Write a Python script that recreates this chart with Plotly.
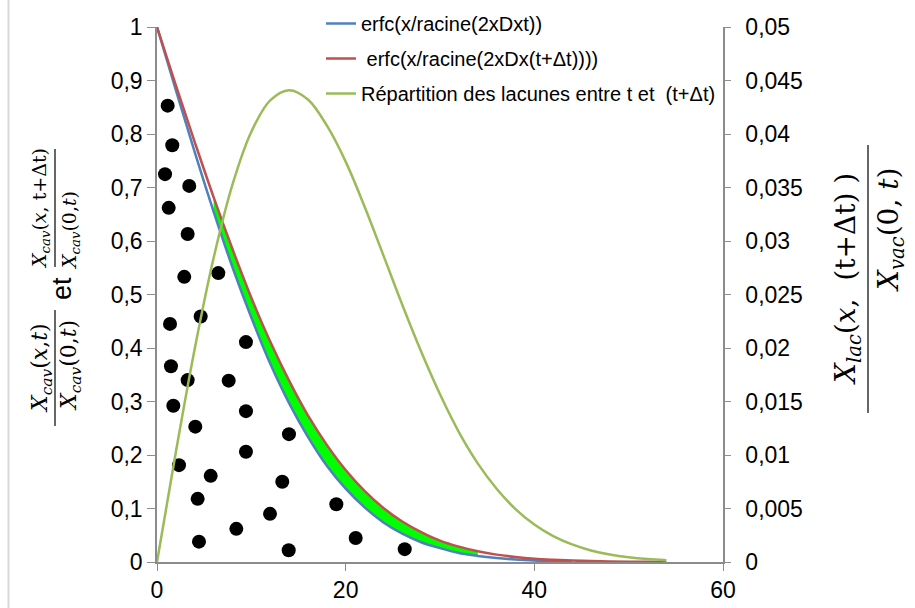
import plotly.graph_objects as go

# Depth profiles ----------------------------------------------------------
x_curve = [0, 2, 4, 6, 8, 10, 12, 14, 16, 18, 20, 22, 24, 26, 28, 30, 32, 34,
           36, 38, 40, 42, 44, 46, 48, 50, 52, 54]

erfc_t = [1.0, 0.882, 0.766, 0.655, 0.551, 0.457, 0.371, 0.297, 0.234, 0.180,
          0.137, 0.102, 0.074, 0.053, 0.037, 0.026, 0.017, 0.0114, 0.0074,
          0.0047, 0.0029, 0.0018, 0.0011]

erfc_tdt = [1.0, 0.891, 0.785, 0.682, 0.585, 0.494, 0.412, 0.339, 0.274, 0.219,
            0.172, 0.133, 0.101, 0.0757, 0.056, 0.040, 0.0287, 0.0201, 0.0138,
            0.0094, 0.0062, 0.0042, 0.0027, 0.0017, 0.0010, 0.0006, 0.0004,
            0.0002]

repartition = [0.0, 0.01028, 0.01993, 0.02841, 0.03527, 0.04021, 0.04314,
               0.0441, 0.04323, 0.04080, 0.03742, 0.03322, 0.02866, 0.02404,
               0.01967, 0.01567, 0.01214, 0.00922, 0.00685, 0.00495, 0.00350,
               0.00242, 0.00164, 0.00108, 0.00070, 0.00044, 0.00027, 0.00016]

# Vacancies (black dots) -------------------------------------------------
dots_x = [1.13, 1.62, 0.85, 3.42, 1.24, 3.25, 2.89, 6.50, 1.38, 4.63, 9.43,
          1.48, 3.25, 7.60, 1.73, 9.43, 4.06, 13.99, 9.43, 2.33, 5.69, 13.28,
          4.31, 19.01, 11.98, 8.41, 21.06, 4.45, 13.96, 26.26]
dots_y = [0.853, 0.779, 0.725, 0.703, 0.662, 0.613, 0.533, 0.540, 0.445, 0.459,
          0.411, 0.366, 0.340, 0.339, 0.292, 0.282, 0.253, 0.239, 0.206, 0.181,
          0.161, 0.150, 0.118, 0.108, 0.090, 0.062, 0.045, 0.038, 0.022, 0.024]

left_ticks = [0, 0.1, 0.2, 0.3, 0.4, 0.5, 0.6, 0.7, 0.8, 0.9, 1]
left_labels = ["0", "0,1", "0,2", "0,3", "0,4", "0,5", "0,6", "0,7", "0,8",
               "0,9", "1"]
right_ticks = [0, 0.005, 0.01, 0.015, 0.02, 0.025, 0.03, 0.035, 0.04, 0.045,
               0.05]
right_labels = ["0", "0,005", "0,01", "0,015", "0,02", "0,025", "0,03",
                "0,035", "0,04", "0,045", "0,05"]
x_ticks = [0, 20, 40, 60]

BLUE = "#4F81BD"
RED = "#C0504D"
OLIVE = "#9BBB59"
AXIS = "#8C8C8C"

W, H = 915, 608
ML, MR, MT, MB = 157, 192, 27, 46
PW, PH = W - ML - MR, H - MT - MB


def px(xp):
    return (xp - ML) / PW


def py(yp):
    return (H - MB - yp) / PH


fig = go.Figure()

# green band between the two erfc profiles
band = slice(3, 18)
fig.add_trace(go.Scatter(x=x_curve[band], y=erfc_t[band], mode="lines",
                         line=dict(width=0, color="#00FF00", shape="spline"),
                         showlegend=False, hoverinfo="skip"))
fig.add_trace(go.Scatter(x=x_curve[band], y=erfc_tdt[band], mode="lines",
                         line=dict(width=0, color="#00FF00", shape="spline"),
                         fill="tonexty", fillcolor="#00FF00",
                         showlegend=False, hoverinfo="skip"))

fig.add_trace(go.Scatter(x=x_curve[:len(erfc_t)], y=erfc_t, mode="lines",
                         name="erfc(x/racine(2xDxt))",
                         line=dict(color=BLUE, width=2.5, shape="spline"),
                         legendgroup="a"))
fig.add_trace(go.Scatter(x=x_curve, y=erfc_tdt, mode="lines",
                         name=" erfc(x/racine(2xDx(t+\u0394t))))",
                         line=dict(color=RED, width=2.5, shape="spline"),
                         legendgroup="b"))
fig.add_trace(go.Scatter(x=x_curve, y=repartition, mode="lines", yaxis="y2",
                         name="R\u00e9partition des lacunes entre t et  (t+\u0394t)",
                         line=dict(color=OLIVE, width=2.5, shape="spline"),
                         legendgroup="c"))
fig.add_trace(go.Scatter(x=dots_x, y=dots_y, mode="markers",
                         marker=dict(color="black", size=14),
                         showlegend=False))

tick_font = dict(family="Liberation Sans, Arial", size=23, color="black")

fig.update_layout(
    width=W, height=H,
    margin=dict(l=ML, r=MR, t=MT, b=MB, autoexpand=False),
    paper_bgcolor="white", plot_bgcolor="white",
    showlegend=True,
    legend=dict(x=px(321), y=py(4), xanchor="left", yanchor="top",
                bgcolor="rgba(255,255,255,0)", tracegroupgap=6,
                font=dict(family="Liberation Sans, Arial", size=20,
                          color="black")),
    xaxis=dict(range=[0, 60], tickvals=x_ticks, ticktext=[str(v) for v in x_ticks],
               showgrid=False, zeroline=False, showline=True, linecolor=AXIS,
               linewidth=1.5, ticks="outside", ticklen=7, tickcolor=AXIS,
               tickfont=tick_font, automargin=False),
    yaxis=dict(range=[0, 1], tickvals=left_ticks, ticktext=left_labels,
               showgrid=False, zeroline=False, showline=True, linecolor=AXIS,
               linewidth=1.5, ticks="outside", ticklen=8, tickcolor=AXIS,
               tickfont=tick_font, automargin=False),
    yaxis2=dict(range=[0, 0.05], overlaying="y", side="right",
                tickvals=right_ticks, ticktext=right_labels,
                showgrid=False, zeroline=False, showline=True, linecolor=AXIS,
                linewidth=1.5, ticks="outside", ticklen=6, tickcolor=AXIS,
                ticklabelstandoff=10, tickfont=tick_font, automargin=False),
)

math_family = "DejaVu Serif, Liberation Serif"
annotations = []
shapes = []


def fraction(num, den, x_num, x_bar, x_den, y_num, y_den, y0, y1, size):
    f = dict(family=math_family, size=size, color="black")
    annotations.append(dict(text=num, x=px(x_num), y=py(y_num), xref="paper",
                            yref="paper", textangle=-90, showarrow=False,
                            xanchor="center", yanchor="middle", font=f))
    annotations.append(dict(text=den, x=px(x_den), y=py(y_den), xref="paper",
                            yref="paper", textangle=-90, showarrow=False,
                            xanchor="center", yanchor="middle", font=f))
    shapes.append(dict(type="line", xref="paper", yref="paper",
                       x0=px(x_bar), x1=px(x_bar), y0=py(y0), y1=py(y1),
                       line=dict(color="black", width=1.2)))


# left axis title
fraction("<i>X<sub>cav</sub></i>(<i>x</i>,<i>t</i>)",
         "<i>X<sub>cav</sub></i>(0,<i>t</i>)",
         41, 55, 70, 368, 366, 310, 426, 22)
annotations.append(dict(text="et", x=px(62), y=py(289), xref="paper",
                        yref="paper", textangle=-90, showarrow=False,
                        xanchor="center", yanchor="middle",
                        font=dict(family="Liberation Sans, Arial", size=27,
                                  color="black")))
fraction("<i>X<sub>cav</sub></i>(<i>x</i>, t+\u0394t)",
         "<i>X<sub>cav</sub></i>(0,<i>t</i>)",
         41, 55, 70, 208, 231, 149, 267, 19)

# right axis title
fraction("<i>X<sub>lac</sub></i>(<i>x</i>,  (t+\u0394t) )",
         "<i>X<sub>vac</sub></i>(0, <i>t</i>)",
         847, 868, 890, 279, 230, 145, 413, 28)

# outer chart border on the left
shapes.append(dict(type="line", xref="paper", yref="paper",
                   x0=px(8.5), x1=px(8.5), y0=py(0), y1=py(H),
                   line=dict(color="#D9D9D9", width=2)))

fig.update_layout(annotations=annotations, shapes=shapes)

fig.write_html("out.html")
